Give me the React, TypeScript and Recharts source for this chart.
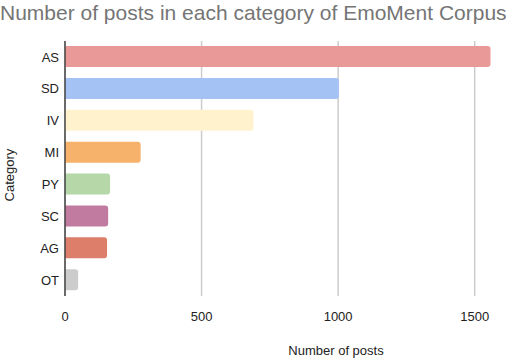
import { BarChart, Bar, XAxis, YAxis, CartesianGrid, Cell } from 'recharts'

const categories = ['AS', 'SD', 'IV', 'MI', 'PY', 'SC', 'AG', 'OT']
const posts = [1558, 1003, 690, 277, 165, 158, 154, 48]
const colors = ['#ea9999', '#a4c2f4', '#fff2cc', '#f6b26b', '#b6d7a8', '#c27ba0', '#dd7e6b', '#cccccc']
const xTicks = [0, 500, 1000, 1500]

const data = categories.map((category, i) => ({ category, posts: posts[i] }))

const font = 'Arial, "Liberation Sans", sans-serif'

export default function App() {
  return (
    <div style={{ position: 'absolute', left: 0, top: 0, width: 522, height: 358, background: '#fff', fontFamily: font }}>
      <div style={{ position: 'absolute', left: 0, top: 0, fontSize: 21, color: '#757575', whiteSpace: 'nowrap', lineHeight: '26px' }}>
        Number of posts in each category of EmoMent Corpus
      </div>
      <BarChart
        width={522}
        height={358}
        data={data}
        layout="vertical"
        margin={{ top: 41, right: 20, bottom: 32, left: 0 }}
      >
        <CartesianGrid horizontal={false} verticalValues={xTicks} stroke="#cccccc" strokeWidth={1.5} />
        <XAxis
          type="number"
          dataKey="posts"
          domain={[0, 1600]}
          ticks={xTicks}
          axisLine={false}
          tickLine={false}
          tickMargin={10}
          height={30}
          tick={{ fontSize: 13, fill: '#222', fontFamily: font }}
          label={{
            content: () => (
              <text x={336} y={355} textAnchor="middle" fontSize={13} fill="#222" fontFamily={font}>
                Number of posts
              </text>
            )
          }}
        />
        <YAxis
          type="category"
          dataKey="category"
          width={65}
          tickSize={0}
          tickMargin={6}
          axisLine={{ stroke: '#444', strokeWidth: 1.5 }}
          tickLine={false}
          tick={{ fontSize: 13, fill: '#222', fontFamily: font }}
          label={{
            content: () => (
              <text x={14} y={175} transform="rotate(-90 14 175)" textAnchor="middle" fontSize={13} fill="#222" fontFamily={font}>
                Category
              </text>
            )
          }}
        />
        <Bar dataKey="posts" barSize={21} radius={[0, 3, 3, 0]} isAnimationActive={false}>
          {data.map((_, index) => (
            <Cell key={`cell-${index}`} fill={colors[index]} />
          ))}
        </Bar>
      </BarChart>
    </div>
  )
}
